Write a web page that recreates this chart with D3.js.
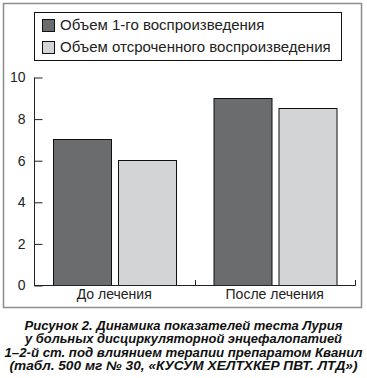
<!DOCTYPE html>
<meta charset="utf-8">
<title>Динамика показателей теста Лурия</title>
<style>
  body { margin: 0; background: white; }
  svg { font-family: "Liberation Sans", Arial, sans-serif; }
  .axis path, .axis line { stroke: #222; stroke-width: 1px; }
  .axis text { fill: #222; font-size: 14px; }
</style>
<body>
<div id="chart"></div>
<script src="https://cdnjs.cloudflare.com/ajax/libs/d3/7.8.5/d3.min.js"></script>
<script>

// data
var categories = ["До лечения", "После лечения"];
var seriesNames = ["Объем 1-го воспроизведения", "Объем отсроченного воспроизведения"];
var firstRecall = [7, 9];
var delayedRecall = [6, 8.5];
var yTicks = [0, 2, 4, 6, 8, 10];
var captionLines = [
  "Рисунок 2. Динамика показателей теста Лурия",
  "у больных дисциркуляторной энцефалопатией",
  "1–2-й ст. под влиянием терапии препаратом Кванил",
  "(табл. 500 мг № 30, «КУСУМ ХЕЛТХКЕР ПВТ. ЛТД»)"
];

var colors = ["#6b6c6e", "#d3d4d6"];
var W = 367, H = 378;

var svg = d3.select("#chart").append("svg")
  .attr("width", W).attr("height", H);

// outer frame
svg.append("rect")
  .attr("x", 3.5).attr("y", 3.5)
  .attr("width", 358).attr("height", 304)
  .attr("fill", "white")
  .attr("stroke", "#8c8c8c")
  .attr("stroke-width", 1.5);

var x0 = d3.scaleBand().domain(categories).range([34, 355]);
var x1 = d3.scaleBand().domain(seriesNames).range([0, x0.bandwidth()])
  .paddingInner(0.108).paddingOuter(0.289);
var y = d3.scaleLinear().domain([0, 10]).range([285, 77]);

var rows = categories.map(function(c, i) {
  return { cat: c, vals: [firstRecall[i], delayedRecall[i]] };
});

// bars
var groups = svg.selectAll("g.grp")
  .data(rows).enter().append("g")
  .attr("class", "grp")
  .attr("transform", function(d) { return "translate(" + x0(d.cat) + ",0)"; });

groups.selectAll("rect")
  .data(function(d) { return d.vals.map(function(v, j) { return { s: seriesNames[j], v: v, j: j }; }); })
  .enter().append("rect")
  .attr("x", function(d) { return Math.round(x1(d.s)) + 0.5; })
  .attr("y", function(d) { return Math.round(y(d.v)) + 0.5; })
  .attr("width", Math.round(x1.bandwidth()))
  .attr("height", function(d) { return Math.round(y(0)) - Math.round(y(d.v)); })
  .attr("fill", function(d) { return colors[d.j]; })
  .attr("stroke", "#111")
  .attr("stroke-width", 1);

// y axis, ticks pointing inward
var yAxis = svg.append("g")
  .attr("class", "axis")
  .attr("transform", "translate(34.5,0.5)")
  .call(d3.axisLeft(y).tickValues(yTicks).tickSizeInner(-8).tickSizeOuter(0).tickPadding(9));
yAxis.select(".domain").remove();
yAxis.append("line")
  .attr("x1", 0).attr("x2", 0)
  .attr("y1", y(10)).attr("y2", y(0))
  .attr("stroke", "#222");

// x axis with ticks at group boundaries
var xg = svg.append("g").attr("class", "axis");
xg.append("line")
  .attr("x1", 34).attr("x2", 355.5)
  .attr("y1", y(0) + 0.5).attr("y2", y(0) + 0.5);
xg.selectAll("line.tk")
  .data(categories).enter().append("line")
  .attr("class", "tk")
  .attr("x1", function(d) { return Math.round(x0(d) + x0.bandwidth()) + 0.5; })
  .attr("x2", function(d) { return Math.round(x0(d) + x0.bandwidth()) + 0.5; })
  .attr("y1", y(0) + 0.5).attr("y2", y(0) - 5);
xg.selectAll("text")
  .data(categories).enter().append("text")
  .attr("x", function(d) { return x0(d) + x0.bandwidth() / 2; })
  .attr("y", 299)
  .attr("text-anchor", "middle")
  .style("font-size", "14px")
  .text(function(d) { return d; });

// legend
svg.append("rect")
  .attr("x", 34.5).attr("y", 12.5)
  .attr("width", 307).attr("height", 48)
  .attr("fill", "white").attr("stroke", "#111");

var leg = svg.selectAll("g.leg")
  .data(seriesNames).enter().append("g")
  .attr("class", "leg")
  .attr("transform", function(d, i) { return "translate(42," + (19 + i * 22) + ")"; });
leg.append("rect")
  .attr("x", 0.5).attr("y", 0.5)
  .attr("width", 12).attr("height", 12)
  .attr("fill", function(d, i) { return colors[i]; })
  .attr("stroke", "#111");
leg.append("text")
  .attr("x", 18).attr("y", 11)
  .style("font-size", "15px")
  .attr("fill", "#222")
  .text(function(d) { return d; });

// caption
var capWidths = [318, 317, 358, 348];
svg.selectAll("text.cap")
  .data(captionLines).enter().append("text")
  .attr("class", "cap")
  .attr("x", 183.5)
  .attr("y", function(d, i) { return 330 + i * 13.3; })
  .attr("text-anchor", "middle")
  .attr("textLength", function(d, i) { return capWidths[i]; })
  .attr("lengthAdjust", "spacingAndGlyphs")
  .style("font-size", "12.5px")
  .style("font-weight", "bold")
  .style("font-style", "italic")
  .attr("fill", "#111")
  .text(function(d) { return d; });

</script>
</body>
